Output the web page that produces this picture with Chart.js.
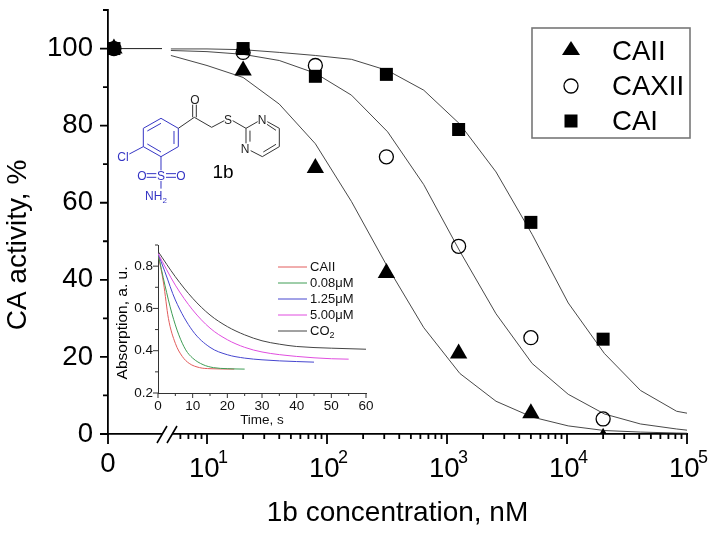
<!DOCTYPE html>
<html><head><meta charset="utf-8">
<style>
html,body{margin:0;padding:0;background:#fff;width:714px;height:535px;overflow:hidden}
canvas,svg{position:absolute;left:0;top:0}
</style>
<script src="https://cdn.jsdelivr.net/npm/chart.js@4"></script>
</head><body>
<canvas id="main" width="714" height="535"></canvas>
<canvas id="inset" width="714" height="535"></canvas>
<svg width="714" height="535" viewBox="0 0 714 535" font-family="Liberation Sans, Arial, sans-serif">
<g transform="translate(90,0) scale(0.3333)" fill="none" stroke-width="3">
<g stroke="#3434c4">
<path d="M213 355L265 385V440L213 470L160 440V385Z"/>
<path d="M213 370L172 393M172 432L213 456M252 393V432"/>
<path d="M160 440L118 462M213 470V511M213 543V566"/>
<path d="M170 521H199M170 532H199M228 521H258M228 532H258"/>
</g>
<g stroke="#333">
<path d="M265 385L313 352L365 382L403 362M428 362L468 385"/>
<path d="M308 352V314M319 352V314"/>
<path d="M468 385L503 365M532 365L568 385V440L517 470L482 452M468 430V385"/>
<path d="M480 392V425M531 373L558 391M558 433L520 456"/>
</g>
</g>
<g font-size="12" text-anchor="middle">
<g fill="#3434c4">
<text x="123" y="161">Cl</text>
<text x="142" y="180">O</text>
<text x="161" y="180">S</text>
<text x="181" y="180">O</text>
<text x="156" y="200">NH<tspan font-size="8" dy="3">2</tspan></text>
</g>
<g fill="#222">
<text x="195" y="104">O</text>
<text x="228" y="124">S</text>
<text x="262" y="124">N</text>
<text x="245" y="153">N</text>
</g>
<text x="223" y="178" font-size="19" fill="#000">1b</text>
</g>
</svg>
<script>
// ---- main chart data (concentration in nM, activity in %)
const sampleConc = [0.11, 20, 80, 312.5, 1250, 5000, 20000];
const caiiPoints  = [100, 94.3, 69, 41.8, 20.9, 5.4, -1];
const caxiiPoints = [100, 99, 95.6, 71.9, 48.7, 25, 3.9];
const caiPoints   = [100, 100, 92.8, 93.3, 79, 54.9, 24.6];

const curveConc  = [0, 1, 3, 5, 10, 20, 40, 80, 160, 320, 640, 1280, 2560, 5120, 10240, 20480, 40960, 81920, 100000];
const caiiCurve  = [100, 100, null, 98.2, 95.6, 92.5, 85.6, 75.3, 60.3, 43.3, 27.6, 15.7, 8.5, 4.4, 2.1, 0.9, 0.5, 0.25, 0.2];
const caxiiCurve = [100, 100, null, 99.5, 99.2, 98.5, 96.9, 93.6, 87.9, 78.4, 64.7, 47.4, 31.2, 18.3, 10.3, 5.2, 2.6, 1.3, 1.0];
const caiCurve   = [100, 100, null, 99.9, 99.9, 99.7, 99, 98.2, 97.2, 94.3, 89.2, 80.4, 68, 51.8, 34, 20.9, 11.3, 5.9, 5.4];

const xMajorConc = [0, 10, 100, 1000, 10000, 100000];
const xMajorLabels = ['0', '10', '10', '10', '10', '10'];
const xMajorSup = ['', '1', '2', '3', '4', '5'];
const xMinorConc = [6,7,8,9,20,30,40,50,60,70,80,90,200,300,400,500,600,700,800,900,
  2000,3000,4000,5000,6000,7000,8000,9000,20000,30000,40000,50000,60000,70000,80000,90000];
const yMajor = [0, 20, 40, 60, 80, 100];
const yMinor = [10, 30, 50, 70, 90, 110];
const legendNames = ['CAII', 'CAXII', 'CAI'];

// ---- inset data (time in s, absorption in a.u.)
const insetTimeCAII = [0, 1.6, 3, 5, 7, 9, 12, 15, 22];
const insetCAII     = [0.86, 0.72, 0.553, 0.435, 0.373, 0.34, 0.32, 0.315, 0.313];
const insetTime008  = [0, 2, 4, 6, 8, 10, 13, 16, 20, 25];
const inset008      = [0.86, 0.71, 0.577, 0.475, 0.404, 0.365, 0.334, 0.32, 0.315, 0.313];
const insetTime125  = [0, 2, 5, 10, 15, 20, 25, 30, 35, 45];
const inset125      = [0.86, 0.773, 0.64, 0.494, 0.416, 0.381, 0.365, 0.357, 0.352, 0.346];
const insetTime500  = [0, 5, 10, 15, 20, 25, 30, 40, 50, 55];
const inset500      = [0.86, 0.71, 0.593, 0.507, 0.452, 0.416, 0.394, 0.373, 0.362, 0.36];
const insetTimeCO2  = [0, 5, 10, 15, 20, 25, 30, 35, 40, 50, 60];
const insetCO2      = [0.87, 0.75, 0.648, 0.569, 0.514, 0.475, 0.447, 0.431, 0.42, 0.412, 0.407];
const insetNames  = ['CAII', '0.08\u03bcM', '1.25\u03bcM', '5.00\u03bcM', 'CO'];
const insetColors = ['#e25c5c', '#3f9d55', '#4646cf', '#e04ddf', '#444444'];
const insetXMajor = [0, 10, 20, 30, 40, 50, 60];
const insetXMinor = [5, 15, 25, 35, 45, 55];
const insetYMajor = [0.2, 0.4, 0.6, 0.8];
const insetYMinor = [0.3, 0.5, 0.7, 0.9];

const FONT = '"Liberation Sans", Arial, sans-serif';

// broken axis: linear part below the break, decades above it
function toAxis(c) { return c <= 1 ? 0.175 + 0.45 * c : Math.log10(c); }
function pts(xs, ys, f) { return xs.map((x, i) => ({ x: f ? f(x) : x, y: ys[i] })); }
function fixBox(s, w, h) {
  if (w) s.width = w;
  if (h) s.height = h;
  s.paddingLeft = s.paddingRight = s.paddingTop = s.paddingBottom = 0;
}

function drawTickMarks(ctx, scale, horizontal, majorLen, minorLen, width, color) {
  ctx.save();
  ctx.strokeStyle = color; ctx.lineWidth = width; ctx.beginPath();
  scale.ticks.forEach(t => {
    const p = scale.getPixelForValue(t.value), len = t.major ? majorLen : minorLen;
    if (horizontal) { ctx.moveTo(p, scale.top); ctx.lineTo(p, scale.top + len); }
    else { ctx.moveTo(scale.right, p); ctx.lineTo(scale.right - len, p); }
  });
  ctx.stroke(); ctx.restore();
}
function vText(ctx, text, x, y, font) {
  ctx.save(); ctx.translate(x, y); ctx.rotate(-Math.PI / 2);
  ctx.font = font; ctx.fillStyle = '#000'; ctx.textAlign = 'center'; ctx.textBaseline = 'middle';
  ctx.fillText(text, 0, 0); ctx.restore();
}

const mainDecor = { id: 'mainDecor', afterDraw(chart) {
  const ctx = chart.ctx, xs = chart.scales.x, ys = chart.scales.y;
  drawTickMarks(ctx, xs, true, 10, 5, 1.8, '#000');
  drawTickMarks(ctx, ys, false, 8, 5, 1.8, '#000');
  // axis break
  ctx.save();
  ctx.fillStyle = '#fff'; ctx.fillRect(162, xs.top - 2, 10, 4);
  ctx.strokeStyle = '#000'; ctx.lineWidth = 1.6; ctx.beginPath();
  ctx.moveTo(157, 443); ctx.lineTo(167, 426); ctx.moveTo(167, 443); ctx.lineTo(177, 426); ctx.stroke();
  // x tick labels with superscripts
  ctx.fillStyle = '#000'; ctx.textBaseline = 'alphabetic';
  xs.ticks.forEach(t => {
    if (!t.major) return;
    const p = xs.getPixelForValue(t.value);
    ctx.font = '27.6px ' + FONT;
    if (!t.sup) { ctx.textAlign = 'center'; ctx.fillText(t.text, p, 472); return; }
    ctx.textAlign = 'left'; ctx.fillText(t.text, p - 18, 477);
    ctx.font = '18px ' + FONT; ctx.fillText(t.sup, p + 11, 463);
  });
  // legend
  ctx.strokeStyle = '#777'; ctx.lineWidth = 1.6; ctx.strokeRect(532, 28, 158, 110);
  ctx.fillStyle = '#000'; ctx.font = '27.6px ' + FONT; ctx.textAlign = 'left';
  legendNames.forEach((n, i) => ctx.fillText(n, 612, 60 + i * 35));
  ctx.beginPath(); ctx.moveTo(571, 41); ctx.lineTo(580, 55); ctx.lineTo(562, 55); ctx.closePath(); ctx.fill();
  ctx.beginPath(); ctx.lineWidth = 1.3; ctx.strokeStyle = '#000'; ctx.arc(571, 86, 7, 0, 2 * Math.PI); ctx.stroke();
  ctx.fillRect(564.5, 114.5, 13, 13);
  ctx.restore();
  vText(ctx, 'CA activity, %', 18, 245, '28px ' + FONT);
}};

function lineDs(data) {
  return { type: 'line', data, borderColor: '#333', borderWidth: 0.9, pointRadius: 0, tension: 0, spanGaps: false, order: 5 };
}
new Chart(document.getElementById('main'), {
  data: { datasets: [
    lineDs(pts(curveConc, caiiCurve, toAxis)),
    lineDs(pts(curveConc, caxiiCurve, toAxis)),
    lineDs(pts(curveConc, caiCurve, toAxis)),
    { type: 'scatter', label: 'CAXII', data: pts(sampleConc, caxiiPoints, toAxis), pointStyle: 'circle', pointRadius: 7,
      pointBackgroundColor: 'transparent', pointBorderColor: '#000', pointBorderWidth: 1.3, order: 3 },
    { type: 'scatter', label: 'CAII', data: pts(sampleConc, caiiPoints, toAxis), pointStyle: 'triangle', pointRadius: 10,
      pointBackgroundColor: '#000', pointBorderColor: '#000', pointBorderWidth: 0, clip: 0, order: 2 },
    { type: 'scatter', label: 'CAI', data: pts(sampleConc, caiPoints, toAxis), pointStyle: 'rect', pointRadius: 9.2,
      pointBackgroundColor: '#000', pointBorderColor: '#000', pointBorderWidth: 0, order: 1 }
  ]},
  options: {
    responsive: false, animation: false, devicePixelRatio: 1,
    layout: { padding: { left: 0, right: 27, top: 7, bottom: 0 } },
    plugins: { legend: { display: false }, tooltip: { enabled: false } },
    scales: {
      x: { type: 'linear', min: toAxis(0), max: 5,
        grid: { drawOnChartArea: false, drawTicks: false },
        border: { color: '#000', width: 1.8 },
        ticks: { display: false, autoSkip: false },
        title: { display: true, text: '1b concentration, nM', color: '#000', font: { family: FONT, size: 28 }, padding: { top: 5, bottom: 5 } },
        afterBuildTicks(s) {
          s.ticks = xMajorConc.map((c, i) => ({ value: toAxis(c), major: true, text: xMajorLabels[i], sup: xMajorSup[i] }))
            .concat(xMinorConc.map(c => ({ value: toAxis(c), major: false })));
        },
        afterFit(s) { fixBox(s, 0, 101); } },
      y: { type: 'linear', min: 0, max: 110,
        grid: { drawOnChartArea: false, drawTicks: false },
        border: { color: '#000', width: 1.8 },
        ticks: { autoSkip: false, maxRotation: 0, padding: 15, color: '#000', font: { family: FONT, size: 27.6 },
          callback: v => yMajor.includes(v) ? String(v) : '' },
        afterBuildTicks(s) {
          s.ticks = yMajor.map(v => ({ value: v, major: true })).concat(yMinor.map(v => ({ value: v, major: false })));
        },
        afterFit(s) { fixBox(s, 108, 0); } }
    }
  },
  plugins: [mainDecor]
});

const insetDecor = { id: 'insetDecor', afterDraw(chart) {
  const ctx = chart.ctx;
  drawTickMarks(ctx, chart.scales.x, true, 5, 3, 1, '#333');
  drawTickMarks(ctx, chart.scales.y, false, 5, 3, 1, '#333');
  vText(ctx, 'Absorption, a. u.', 123, 323, '15.5px ' + FONT);
  ctx.save();
  ctx.textBaseline = 'middle'; ctx.textAlign = 'left'; ctx.fillStyle = '#111'; ctx.font = '13px ' + FONT;
  insetNames.forEach((n, i) => {
    const y = 267 + i * 16;
    ctx.strokeStyle = insetColors[i]; ctx.lineWidth = 1; ctx.beginPath(); ctx.moveTo(278, y); ctx.lineTo(307, y); ctx.stroke();
    ctx.fillText(n, 310, y);
  });
  const w = ctx.measureText('CO').width;
  ctx.font = '9px ' + FONT; ctx.fillText('2', 310 + w, 267 + 4 * 16 + 5);
  ctx.restore();
}};
function insetDs(xs, ys, color) {
  return { data: pts(xs, ys), borderColor: color, borderWidth: 1, pointRadius: 0, cubicInterpolationMode: 'monotone' };
}
new Chart(document.getElementById('inset'), {
  type: 'line',
  data: { datasets: [
    insetDs(insetTimeCO2, insetCO2, insetColors[4]),
    insetDs(insetTime500, inset500, insetColors[3]),
    insetDs(insetTime125, inset125, insetColors[2]),
    insetDs(insetTime008, inset008, insetColors[1]),
    insetDs(insetTimeCAII, insetCAII, insetColors[0])
  ]},
  options: {
    responsive: false, animation: false, devicePixelRatio: 1,
    layout: { padding: { left: 108, right: 348, top: 245, bottom: 107 } },
    plugins: { legend: { display: false }, tooltip: { enabled: false } },
    scales: {
      x: { type: 'linear', min: 0, max: 60,
        grid: { drawOnChartArea: false, drawTicks: false },
        border: { color: '#333', width: 1 },
        ticks: { autoSkip: false, maxRotation: 0, padding: 5, color: '#111', font: { family: FONT, size: 13.5 },
          callback: v => insetXMajor.includes(v) ? String(v) : '' },
        title: { display: true, text: 'Time, s', color: '#111', font: { family: FONT, size: 13.5 }, padding: 0 },
        afterBuildTicks(s) {
          s.ticks = insetXMajor.map(v => ({ value: v, major: true })).concat(insetXMinor.map(v => ({ value: v, major: false })));
        },
        afterFit(s) { fixBox(s, 0, 35); } },
      y: { type: 'linear', min: 0.2, max: 0.9,
        grid: { drawOnChartArea: false, drawTicks: false },
        border: { color: '#333', width: 1 },
        ticks: { autoSkip: false, maxRotation: 0, padding: 5, color: '#111', font: { family: FONT, size: 13.5 },
          callback: v => insetYMajor.includes(v) ? v.toFixed(1) : '' },
        afterBuildTicks(s) {
          s.ticks = insetYMajor.map(v => ({ value: v, major: true })).concat(insetYMinor.map(v => ({ value: v, major: false })));
        },
        afterFit(s) { fixBox(s, 50, 0); } }
    }
  },
  plugins: [insetDecor]
});
</script>
</body></html>
